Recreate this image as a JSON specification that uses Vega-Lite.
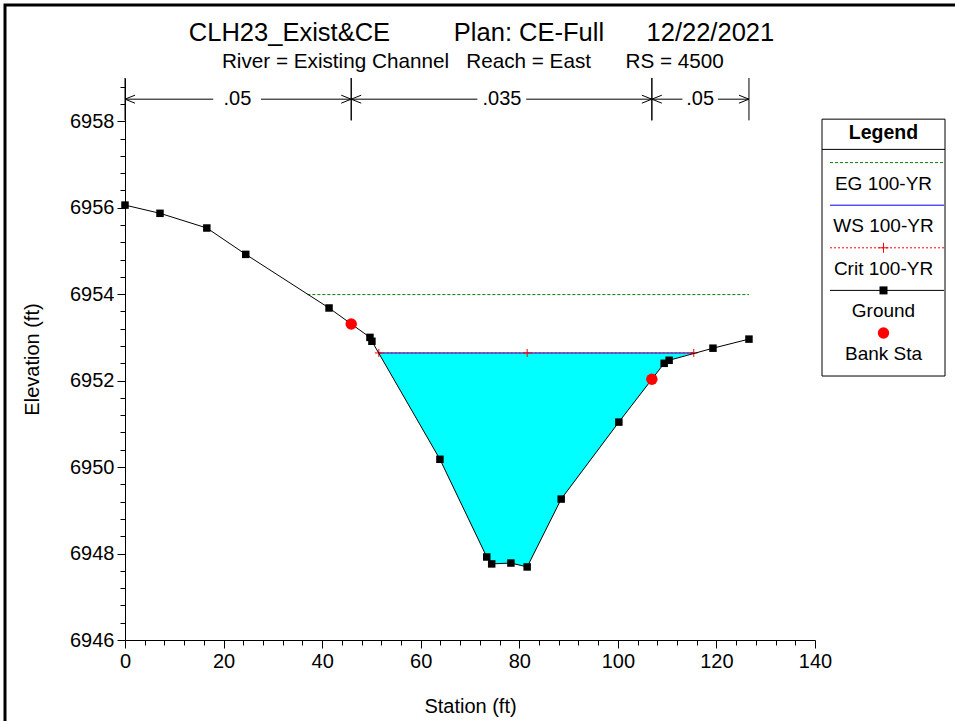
{
  "$schema": "https://vega.github.io/schema/vega-lite/v6.json",
  "width": 953,
  "height": 719,
  "autosize": {"type": "none"},
  "padding": {"left": 5, "top": 5, "right": 0, "bottom": 0},
  "background": "white",
  "config": {
    "view": {"stroke": "black", "strokeWidth": 3, "fill": "white"},
    "font": "Liberation Sans",
    "text": {"font": "Liberation Sans", "fontSize": 19, "color": "black"}
  },
  "title": {
    "text": "CLH23_Exist&CE\u00a0\u00a0\u00a0\u00a0\u00a0\u00a0\u00a0\u00a0\u00a0Plan: CE-Full\u00a0\u00a0\u00a0\u00a0\u00a0\u00a012/22/2021",
    "subtitle": "River = Existing Channel\u00a0\u00a0\u00a0Reach = East\u00a0\u00a0\u00a0\u00a0\u00a0\u00a0RS = 4500\u00a0\u00a0\u00a0\u200b",
    "anchor": "middle",
    "frame": "group",
    "orient": "top",
    "offset": -67,
    "font": "Liberation Sans",
    "fontSize": 25.5,
    "fontWeight": "normal",
    "color": "black",
    "subtitleFont": "Liberation Sans",
    "subtitleFontSize": 20.7,
    "subtitleColor": "black",
    "subtitlePadding": 6
  },
  "datasets": {
    "ground": [
      {"station": 0.0, "elev": 6956.06},
      {"station": 7.1, "elev": 6955.87},
      {"station": 16.6, "elev": 6955.53},
      {"station": 24.5, "elev": 6954.92},
      {"station": 41.4, "elev": 6953.68},
      {"station": 49.7, "elev": 6953.0},
      {"station": 50.1, "elev": 6952.91},
      {"station": 63.9, "elev": 6950.18},
      {"station": 73.4, "elev": 6947.92},
      {"station": 74.4, "elev": 6947.76},
      {"station": 78.3, "elev": 6947.78},
      {"station": 81.6, "elev": 6947.69},
      {"station": 88.5, "elev": 6949.26},
      {"station": 100.2, "elev": 6951.04},
      {"station": 109.4, "elev": 6952.4},
      {"station": 110.4, "elev": 6952.47},
      {"station": 119.3, "elev": 6952.75},
      {"station": 126.6, "elev": 6952.96}
    ],
    "water": [
      {"station": 51.5, "ground": 6952.64, "ws": 6952.64},
      {"station": 63.9, "ground": 6950.18, "ws": 6952.64},
      {"station": 73.4, "ground": 6947.92, "ws": 6952.64},
      {"station": 74.4, "ground": 6947.76, "ws": 6952.64},
      {"station": 78.3, "ground": 6947.78, "ws": 6952.64},
      {"station": 81.6, "ground": 6947.69, "ws": 6952.64},
      {"station": 88.5, "ground": 6949.26, "ws": 6952.64},
      {"station": 100.2, "ground": 6951.04, "ws": 6952.64},
      {"station": 109.4, "ground": 6952.4, "ws": 6952.64},
      {"station": 110.4, "ground": 6952.47, "ws": 6952.64},
      {"station": 115.4, "ground": 6952.64, "ws": 6952.64}
    ],
    "ws": [
      {"station": 51.5, "elev": 6952.64},
      {"station": 115.4, "elev": 6952.64}
    ],
    "crit": [
      {"station": 51.5, "elev": 6952.64},
      {"station": 81.6, "elev": 6952.64},
      {"station": 115.4, "elev": 6952.64}
    ],
    "eg": [
      {"station": 37.0, "elev": 6953.99},
      {"station": 126.6, "elev": 6953.99}
    ],
    "bank": [
      {"station": 45.9, "elev": 6953.31},
      {"station": 106.9, "elev": 6952.03}
    ],
    "nvalues": [
      {"from": 0, "to": 45.9, "n": ".05", "mid": 22.8, "gapL": 17.9, "gapR": 27.6},
      {"from": 45.9, "to": 106.9, "n": ".035", "mid": 76.5, "gapL": 71.5, "gapR": 81.4},
      {"from": 106.9, "to": 126.6, "n": ".05", "mid": 116.7, "gapL": 113.1, "gapR": 120.3}
    ],
    "legend": [
      {"entry": "EG 100-YR", "order": 1},
      {"entry": "WS 100-YR", "order": 2},
      {"entry": "Crit 100-YR", "order": 3},
      {"entry": "Ground", "order": 4},
      {"entry": "Bank Sta", "order": 5}
    ]
  },
  "layer": [
    {
      "data": {"name": "water"},
      "mark": {"type": "area", "color": "#00FFFF", "opacity": 1},
      "encoding": {
        "x": {
          "field": "station", "type": "quantitative",
          "scale": {"domain": [0, 140], "range": [120, 810], "nice": false, "zero": false},
          "axis": {
            "values": [0,4,8,12,16,20,24,28,32,36,40,44,48,52,56,60,64,68,72,76,80,84,88,92,96,100,104,108,112,116,120,124,128,132,136,140],
            "tickCount": 100,
            "tickMinStep": 0.1,
            "labelExpr": "datum.value % 20 === 0 ? format(datum.value, 'd') : ''",
            "tickSize": {"condition": {"test": "datum.value % 20 === 0", "value": 8}, "value": 5},
            "orient": "bottom",
            "offset": -84,
            "grid": false,
            "domainColor": "black",
            "tickColor": "black",
            "labelColor": "black",
            "labelFont": "Liberation Sans",
            "labelFontSize": 20,
            "labelPadding": 3,
            "labelFlush": false,
            "labelOverlap": false,
            "title": "Station (ft)",
            "titleFont": "Liberation Sans",
            "titleFontSize": 20,
            "titleFontWeight": "normal",
            "titleColor": "black",
            "titlePadding": 25
          }
        },
        "y": {
          "field": "ground", "type": "quantitative",
          "scale": {"domain": [6946, 6959], "range": [635, 73], "nice": false, "zero": false},
          "axis": {
            "values": [6946,6946.4,6946.8,6947.2,6947.6,6948,6948.4,6948.8,6949.2,6949.6,6950,6950.4,6950.8,6951.2,6951.6,6952,6952.4,6952.8,6953.2,6953.6,6954,6954.4,6954.8,6955.2,6955.6,6956,6956.4,6956.8,6957.2,6957.6,6958,6958.4,6958.8],
            "tickCount": 100,
            "tickMinStep": 0.1,
            "labelExpr": "datum.value % 2 === 0 ? format(datum.value, 'd') : ''",
            "tickSize": {"condition": {"test": "datum.value % 2 === 0", "value": 8}, "value": 5},
            "orient": "left",
            "offset": -120,
            "grid": false,
            "domainColor": "black",
            "tickColor": "black",
            "labelColor": "black",
            "labelFont": "Liberation Sans",
            "labelFontSize": 20,
            "labelPadding": 3,
            "labelOverlap": false,
            "labelFlush": false,
            "title": "Elevation (ft)",
            "titleFont": "Liberation Sans",
            "titleFontSize": 20,
            "titleFontWeight": "normal",
            "titleColor": "black",
            "titlePadding": 27
          }
        },
        "y2": {"field": "ws"}
      }
    },
    {
      "data": {"name": "eg"},
      "mark": {"type": "line", "color": "#008000", "strokeWidth": 1, "strokeDash": [3, 2]},
      "encoding": {
        "x": {"field": "station", "type": "quantitative", "scale": {"domain": [0, 140], "range": [120, 810], "nice": false, "zero": false}, "axis": null},
        "y": {"field": "elev", "type": "quantitative", "scale": {"domain": [6946, 6959], "range": [635, 73], "nice": false, "zero": false}, "axis": null}
      }
    },
    {
      "data": {"name": "ws"},
      "mark": {"type": "line", "color": "#0000FF", "strokeWidth": 1},
      "encoding": {
        "x": {"field": "station", "type": "quantitative", "scale": {"domain": [0, 140], "range": [120, 810], "nice": false, "zero": false}, "axis": null},
        "y": {"field": "elev", "type": "quantitative", "scale": {"domain": [6946, 6959], "range": [635, 73], "nice": false, "zero": false}, "axis": null}
      }
    },
    {
      "data": {"name": "crit"},
      "mark": {"type": "line", "color": "#FF0000", "strokeWidth": 1, "strokeDash": [2, 2]},
      "encoding": {
        "x": {"field": "station", "type": "quantitative", "scale": {"domain": [0, 140], "range": [120, 810], "nice": false, "zero": false}, "axis": null},
        "y": {"field": "elev", "type": "quantitative", "scale": {"domain": [6946, 6959], "range": [635, 73], "nice": false, "zero": false}, "axis": null}
      }
    },
    {
      "data": {"name": "crit"},
      "mark": {"type": "point", "shape": "M-1,0L1,0M0,-1L0,1", "filled": false, "stroke": "#FF0000", "strokeWidth": 1, "size": 64, "opacity": 1},
      "encoding": {
        "x": {"field": "station", "type": "quantitative", "scale": {"domain": [0, 140], "range": [120, 810], "nice": false, "zero": false}, "axis": null},
        "y": {"field": "elev", "type": "quantitative", "scale": {"domain": [6946, 6959], "range": [635, 73], "nice": false, "zero": false}, "axis": null}
      }
    },
    {
      "data": {"name": "ground"},
      "mark": {"type": "line", "color": "black", "strokeWidth": 1},
      "encoding": {
        "x": {"field": "station", "type": "quantitative", "scale": {"domain": [0, 140], "range": [120, 810], "nice": false, "zero": false}, "axis": null},
        "y": {"field": "elev", "type": "quantitative", "scale": {"domain": [6946, 6959], "range": [635, 73], "nice": false, "zero": false}, "axis": null}
      }
    },
    {
      "data": {"name": "ground"},
      "mark": {"type": "point", "shape": "square", "filled": true, "color": "black", "size": 56, "opacity": 1},
      "encoding": {
        "x": {"field": "station", "type": "quantitative", "scale": {"domain": [0, 140], "range": [120, 810], "nice": false, "zero": false}, "axis": null},
        "y": {"field": "elev", "type": "quantitative", "scale": {"domain": [6946, 6959], "range": [635, 73], "nice": false, "zero": false}, "axis": null}
      }
    },
    {
      "data": {"name": "bank"},
      "mark": {"type": "point", "shape": "circle", "filled": true, "color": "#FF0000", "size": 130, "opacity": 1},
      "encoding": {
        "x": {"field": "station", "type": "quantitative", "scale": {"domain": [0, 140], "range": [120, 810], "nice": false, "zero": false}, "axis": null},
        "y": {"field": "elev", "type": "quantitative", "scale": {"domain": [6946, 6959], "range": [635, 73], "nice": false, "zero": false}, "axis": null}
      }
    },
    {
      "data": {"name": "nvalues"},
      "mark": {"type": "rule", "color": "black", "strokeWidth": 1},
      "encoding": {
        "x": {"field": "from", "type": "quantitative", "scale": {"domain": [0, 140], "range": [120, 810], "nice": false, "zero": false}, "axis": null},
        "y": {"datum": 6958.02, "type": "quantitative", "scale": {"domain": [6946, 6959], "range": [635, 73], "nice": false, "zero": false}, "axis": null},
        "y2": {"datum": 6959}
      }
    },
    {
      "data": {"name": "nvalues"},
      "mark": {"type": "rule", "color": "black", "strokeWidth": 1},
      "encoding": {
        "x": {"field": "to", "type": "quantitative", "scale": {"domain": [0, 140], "range": [120, 810], "nice": false, "zero": false}, "axis": null},
        "y": {"datum": 6958.02, "type": "quantitative", "scale": {"domain": [6946, 6959], "range": [635, 73], "nice": false, "zero": false}, "axis": null},
        "y2": {"datum": 6959}
      }
    },
    {
      "data": {"name": "nvalues"},
      "mark": {"type": "rule", "color": "black", "strokeWidth": 1},
      "encoding": {
        "x": {"field": "from", "type": "quantitative", "scale": {"domain": [0, 140], "range": [120, 810], "nice": false, "zero": false}, "axis": null},
        "x2": {"field": "gapL"},
        "y": {"datum": 6958.51, "type": "quantitative", "scale": {"domain": [6946, 6959], "range": [635, 73], "nice": false, "zero": false}, "axis": null}
      }
    },
    {
      "data": {"name": "nvalues"},
      "mark": {"type": "rule", "color": "black", "strokeWidth": 1},
      "encoding": {
        "x": {"field": "gapR", "type": "quantitative", "scale": {"domain": [0, 140], "range": [120, 810], "nice": false, "zero": false}, "axis": null},
        "x2": {"field": "to"},
        "y": {"datum": 6958.51, "type": "quantitative", "scale": {"domain": [6946, 6959], "range": [635, 73], "nice": false, "zero": false}, "axis": null}
      }
    },
    {
      "data": {"name": "nvalues"},
      "mark": {"type": "text", "align": "center", "baseline": "middle", "fontSize": 20, "color": "black"},
      "encoding": {
        "x": {"field": "mid", "type": "quantitative", "scale": {"domain": [0, 140], "range": [120, 810], "nice": false, "zero": false}, "axis": null},
        "y": {"datum": 6958.51, "type": "quantitative", "scale": {"domain": [6946, 6959], "range": [635, 73], "nice": false, "zero": false}, "axis": null},
        "text": {"field": "n"}
      }
    },
    {
      "data": {"name": "nvalues"},
      "mark": {"type": "point", "shape": "M2,-0.8L0,0L2,0.8", "filled": false, "stroke": "black", "strokeWidth": 1, "size": 100, "opacity": 1},
      "encoding": {
        "x": {"field": "from", "type": "quantitative", "scale": {"domain": [0, 140], "range": [120, 810], "nice": false, "zero": false}, "axis": null},
        "y": {"datum": 6958.51, "type": "quantitative", "scale": {"domain": [6946, 6959], "range": [635, 73], "nice": false, "zero": false}, "axis": null}
      }
    },
    {
      "data": {"name": "nvalues"},
      "mark": {"type": "point", "shape": "M-2,-0.8L0,0L-2,0.8", "filled": false, "stroke": "black", "strokeWidth": 1, "size": 100, "opacity": 1},
      "encoding": {
        "x": {"field": "to", "type": "quantitative", "scale": {"domain": [0, 140], "range": [120, 810], "nice": false, "zero": false}, "axis": null},
        "y": {"datum": 6958.51, "type": "quantitative", "scale": {"domain": [6946, 6959], "range": [635, 73], "nice": false, "zero": false}, "axis": null}
      }
    },
    {
      "data": {"values": [{}]},
      "mark": {"type": "rect", "fill": "white", "stroke": "black", "strokeWidth": 1},
      "encoding": {
        "x": {"datum": 0, "type": "quantitative", "scale": {"domain": [0, 1], "range": [817, 940], "nice": false, "zero": false}, "axis": null},
        "x2": {"datum": 1},
        "y": {"datum": -0.02, "type": "quantitative", "scale": {"domain": [0, 6], "range": [115, 370.6], "nice": false, "zero": false}, "axis": null},
        "y2": {"datum": 6.01}
      }
    },
    {
      "data": {"values": [{}]},
      "mark": {"type": "rule", "color": "black", "strokeWidth": 1},
      "encoding": {
        "x": {"datum": 0, "type": "quantitative", "scale": {"domain": [0, 1], "range": [817, 940], "nice": false, "zero": false}, "axis": null},
        "x2": {"datum": 1},
        "y": {"datum": 0.69, "type": "quantitative", "scale": {"domain": [0, 6], "range": [115, 370.6], "nice": false, "zero": false}, "axis": null}
      }
    },
    {
      "data": {"values": [{}]},
      "mark": {"type": "text", "align": "center", "baseline": "middle", "fontSize": 19.5, "fontWeight": "bold", "color": "black"},
      "encoding": {
        "x": {"datum": 0.5, "type": "quantitative", "scale": {"domain": [0, 1], "range": [817, 940], "nice": false, "zero": false}, "axis": null},
        "y": {"datum": 0.305, "type": "quantitative", "scale": {"domain": [0, 6], "range": [115, 370.6], "nice": false, "zero": false}, "axis": null},
        "text": {"value": "Legend"}
      }
    },
    {
      "data": {"name": "legend"},
      "mark": {"type": "text", "align": "center", "baseline": "middle", "fontSize": 19, "color": "black", "dy": 21},
      "encoding": {
        "x": {"datum": 0.5, "type": "quantitative", "scale": {"domain": [0, 1], "range": [817, 940], "nice": false, "zero": false}, "axis": null},
        "y": {"field": "order", "type": "quantitative", "scale": {"domain": [0, 6], "range": [115, 370.6], "nice": false, "zero": false}, "axis": null},
        "text": {"field": "entry"}
      }
    },
    {
      "data": {"name": "legend"},
      "transform": [{"filter": "datum.entry === 'EG 100-YR'"}],
      "mark": {"type": "rule", "color": "#008000", "strokeWidth": 1, "strokeDash": [3, 2]},
      "encoding": {
        "x": {"datum": 0.065, "type": "quantitative", "scale": {"domain": [0, 1], "range": [817, 940], "nice": false, "zero": false}, "axis": null},
        "x2": {"datum": 0.992},
        "y": {"field": "order", "type": "quantitative", "scale": {"domain": [0, 6], "range": [115, 370.6], "nice": false, "zero": false}, "axis": null}
      }
    },
    {
      "data": {"name": "legend"},
      "transform": [{"filter": "datum.entry === 'WS 100-YR'"}],
      "mark": {"type": "rule", "color": "#0000FF", "strokeWidth": 1},
      "encoding": {
        "x": {"datum": 0.065, "type": "quantitative", "scale": {"domain": [0, 1], "range": [817, 940], "nice": false, "zero": false}, "axis": null},
        "x2": {"datum": 0.992},
        "y": {"field": "order", "type": "quantitative", "scale": {"domain": [0, 6], "range": [115, 370.6], "nice": false, "zero": false}, "axis": null}
      }
    },
    {
      "data": {"name": "legend"},
      "transform": [{"filter": "datum.entry === 'Crit 100-YR'"}],
      "mark": {"type": "rule", "color": "#FF0000", "strokeWidth": 1, "strokeDash": [2, 2]},
      "encoding": {
        "x": {"datum": 0.065, "type": "quantitative", "scale": {"domain": [0, 1], "range": [817, 940], "nice": false, "zero": false}, "axis": null},
        "x2": {"datum": 0.992},
        "y": {"field": "order", "type": "quantitative", "scale": {"domain": [0, 6], "range": [115, 370.6], "nice": false, "zero": false}, "axis": null}
      }
    },
    {
      "data": {"name": "legend"},
      "transform": [{"filter": "datum.entry === 'Crit 100-YR'"}],
      "mark": {"type": "point", "shape": "M-1,0L1,0M0,-1L0,1", "filled": false, "stroke": "#FF0000", "strokeWidth": 1, "size": 100, "opacity": 1},
      "encoding": {
        "x": {"datum": 0.5, "type": "quantitative", "scale": {"domain": [0, 1], "range": [817, 940], "nice": false, "zero": false}, "axis": null},
        "y": {"field": "order", "type": "quantitative", "scale": {"domain": [0, 6], "range": [115, 370.6], "nice": false, "zero": false}, "axis": null}
      }
    },
    {
      "data": {"name": "legend"},
      "transform": [{"filter": "datum.entry === 'Ground'"}],
      "mark": {"type": "rule", "color": "black", "strokeWidth": 1},
      "encoding": {
        "x": {"datum": 0.065, "type": "quantitative", "scale": {"domain": [0, 1], "range": [817, 940], "nice": false, "zero": false}, "axis": null},
        "x2": {"datum": 0.992},
        "y": {"field": "order", "type": "quantitative", "scale": {"domain": [0, 6], "range": [115, 370.6], "nice": false, "zero": false}, "axis": null}
      }
    },
    {
      "data": {"name": "legend"},
      "transform": [{"filter": "datum.entry === 'Ground'"}],
      "mark": {"type": "point", "shape": "square", "filled": true, "color": "black", "size": 64, "opacity": 1},
      "encoding": {
        "x": {"datum": 0.5, "type": "quantitative", "scale": {"domain": [0, 1], "range": [817, 940], "nice": false, "zero": false}, "axis": null},
        "y": {"field": "order", "type": "quantitative", "scale": {"domain": [0, 6], "range": [115, 370.6], "nice": false, "zero": false}, "axis": null}
      }
    },
    {
      "data": {"name": "legend"},
      "transform": [{"filter": "datum.entry === 'Bank Sta'"}],
      "mark": {"type": "point", "shape": "circle", "filled": true, "color": "#FF0000", "size": 130, "opacity": 1},
      "encoding": {
        "x": {"datum": 0.5, "type": "quantitative", "scale": {"domain": [0, 1], "range": [817, 940], "nice": false, "zero": false}, "axis": null},
        "y": {"field": "order", "type": "quantitative", "scale": {"domain": [0, 6], "range": [115, 370.6], "nice": false, "zero": false}, "axis": null}
      }
    }
  ],
  "resolve": {"scale": {"x": "independent", "y": "independent"}}
}
